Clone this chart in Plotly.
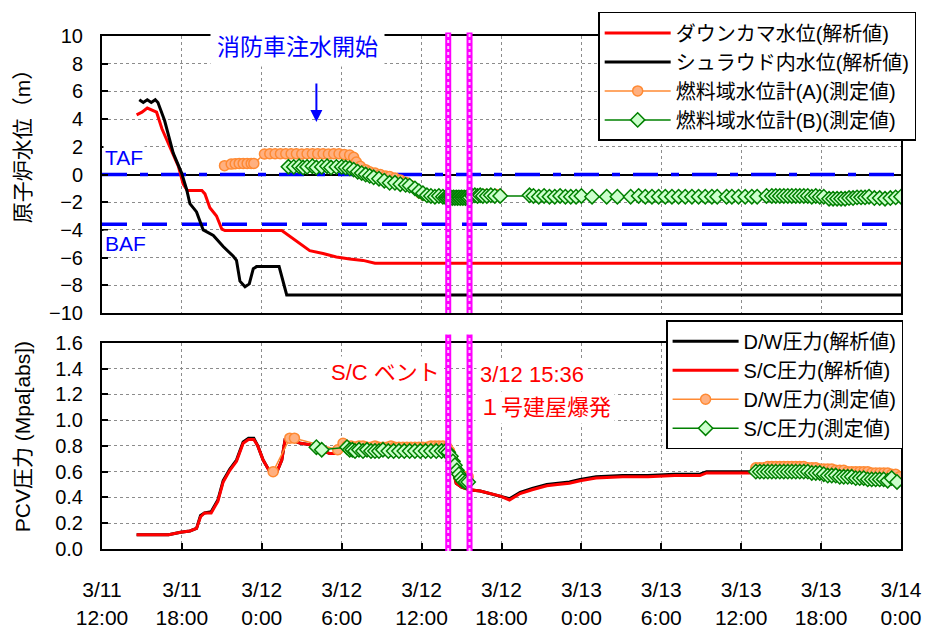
import plotly.graph_objects as go

# ---------------- data (hours since 3/11 12:00) ----------------
TICK_HOURS = [0, 6, 12, 18, 24, 30, 36, 42, 48, 54, 60]
TICK_LABELS = ["3/11<br>12:00", "3/11<br>18:00", "3/12<br>0:00", "3/12<br>6:00",
               "3/12<br>12:00", "3/12<br>18:00", "3/13<br>0:00", "3/13<br>6:00",
               "3/13<br>12:00", "3/13<br>18:00", "3/14<br>0:00"]

TAF_LEVEL = 0.0
BAF_LEVEL = -3.6
TIME_SPAN = [0, 60]
VENT_HOUR = 26.0          # S/C vent
EXPLOSION_HOUR = 27.6     # 3/12 15:36
FIRE_INJECTION_HOUR = 16.1

# top: reactor water level (m)
DOWNCOMER = [(2.6, 4.3), (3.0, 4.5), (3.4, 4.8), (4.1, 4.5), (4.5, 3.3), (5.1, 2.0),
             (5.73, 0.6), (6.1, -0.7), (6.4, -1.15), (7.5, -1.15), (7.73, -1.4),
             (8.1, -2.4), (8.6, -3.0), (9.0, -3.95), (9.23, -4.05), (13.5, -4.05),
             (14.1, -4.45), (14.9, -5.0), (15.6, -5.5), (16.6, -5.7), (17.6, -5.95),
             (18.6, -6.1), (19.6, -6.2), (20.5, -6.4), (60.0, -6.4)]

SHROUD = [(2.8, 5.4), (3.1, 5.2), (3.4, 5.4), (3.7, 5.2), (4.0, 5.4), (4.2, 5.2),
          (4.7, 3.9), (5.35, 1.55), (5.98, 0.1), (6.36, -1.1), (6.6, -2.1), (7.1, -2.7),
          (7.6, -4.0), (8.36, -4.4), (9.1, -5.2), (9.86, -5.9), (10.1, -6.2),
          (10.36, -7.7), (10.74, -8.1), (11.06, -7.9), (11.36, -6.8), (11.6, -6.65),
          (13.3, -6.65), (13.6, -7.85), (13.87, -8.7), (60.0, -8.7)]

FUEL_A = [(9.2, 0.64), (9.7, 0.75), (10.0, 0.78), (10.3, 0.8), (10.6, 0.8), (10.9, 0.8),
          (11.2, 0.8), (11.4, 0.8), (12.2, 1.48), (12.6, 1.5), (13.0, 1.5), (13.4, 1.5),
          (13.8, 1.5), (14.2, 1.5), (14.6, 1.5), (15.0, 1.48), (15.4, 1.5), (15.8, 1.5),
          (16.2, 1.5), (16.6, 1.5), (17.0, 1.48), (17.4, 1.5), (17.8, 1.5), (18.2, 1.45),
          (18.6, 1.4), (18.9, 1.25), (19.1, 0.9), (19.4, 0.6), (19.8, 0.35), (20.1, 0.2),
          (20.5, 0.1), (20.9, 0.0), (21.3, -0.1), (21.6, -0.15), (22.0, -0.25),
          (22.4, -0.4), (22.8, -0.55), (23.1, -0.75), (23.5, -1.0), (23.9, -1.35),
          (24.2, -1.5), (24.5, -1.55), (24.9, -1.6), (25.3, -1.6), (25.7, -1.55),
          (26.0, -1.55), (26.3, -1.6), (26.6, -1.6), (27.0, -1.55), (27.4, -1.55),
          (27.7, -1.5), (28.0, -1.5), (28.4, -1.5), (28.8, -1.45), (29.2, -1.45),
          (29.6, -1.45), (29.9, -1.5)]

FUEL_B = [(14.0, 0.56), (14.4, 0.55), (14.8, 0.6), (15.1, 0.5), (15.4, 0.55), (15.8, 0.6),
          (16.1, 0.5), (16.5, 0.55), (16.9, 0.6), (17.2, 0.5), (17.6, 0.55), (18.0, 0.55),
          (18.3, 0.5), (18.6, 0.45), (18.9, 0.35), (19.2, 0.2), (19.5, 0.1), (19.8, 0.0),
          (20.1, -0.1), (20.4, -0.2), (20.8, -0.3), (21.2, -0.45), (21.6, -0.6),
          (22.0, -0.6), (22.4, -0.7), (22.8, -0.75), (23.1, -0.8), (23.5, -1.0),
          (23.8, -1.2), (24.1, -1.35), (24.4, -1.5), (24.7, -1.55), (25.0, -1.6),
          (25.3, -1.55), (25.6, -1.6), (25.8, -1.65), (25.9, -1.7), (26.0, -1.65),
          (26.1, -1.7), (26.2, -1.65), (26.3, -1.7), (26.4, -1.65), (26.5, -1.7),
          (26.6, -1.65), (26.7, -1.7), (26.8, -1.65), (26.9, -1.7), (27.0, -1.65),
          (27.1, -1.7), (27.2, -1.65), (27.3, -1.7), (27.4, -1.65), (27.5, -1.7),
          (27.6, -1.65), (27.8, -1.55), (28.0, -1.5), (28.2, -1.55), (28.4, -1.5),
          (28.6, -1.55), (28.9, -1.55), (29.2, -1.5), (29.5, -1.55), (29.9, -1.55),
          (32.1, -1.5), (32.4, -1.55), (32.8, -1.6), (33.2, -1.55), (33.6, -1.6),
          (34.0, -1.6), (34.4, -1.55), (34.8, -1.6), (35.2, -1.6), (35.6, -1.6),
          (36.0, -1.55), (36.8, -1.6), (37.9, -1.6), (38.7, -1.6), (39.7, -1.6),
          (40.3, -1.55), (40.8, -1.6), (41.3, -1.6), (41.8, -1.6), (42.3, -1.6),
          (42.8, -1.6), (43.3, -1.6), (43.8, -1.6), (44.3, -1.6), (44.8, -1.6),
          (45.3, -1.6), (45.8, -1.6), (46.2, -1.6), (46.9, -1.6), (47.3, -1.6),
          (47.8, -1.6), (48.3, -1.6), (48.8, -1.6), (49.2, -1.6), (49.9, -1.55),
          (50.3, -1.55), (50.6, -1.55), (50.9, -1.55), (51.2, -1.55), (51.5, -1.55),
          (51.8, -1.55), (52.1, -1.55), (52.4, -1.55), (52.7, -1.55), (53.0, -1.55),
          (53.3, -1.6), (53.6, -1.55), (53.9, -1.6), (54.2, -1.6), (54.6, -1.75),
          (54.9, -1.75), (55.2, -1.75), (55.5, -1.75), (55.8, -1.75), (56.1, -1.7),
          (56.4, -1.7), (56.7, -1.65), (57.0, -1.65), (57.3, -1.65), (57.6, -1.6),
          (58.0, -1.7), (58.4, -1.7), (58.8, -1.75), (59.2, -1.7), (59.6, -1.65),
          (60.0, -1.6)]

# bottom: PCV pressure (MPa abs)
SC_ANALYSIS = [(2.6, 0.11), (5.0, 0.11), (5.9, 0.13), (6.6, 0.14), (7.1, 0.16), (7.4, 0.25),
               (7.7, 0.28), (8.2, 0.28), (8.7, 0.37), (9.1, 0.52), (9.6, 0.61), (10.1, 0.68),
               (10.6, 0.82), (11.0, 0.85), (11.4, 0.85), (11.7, 0.80), (12.1, 0.69),
               (12.6, 0.60), (13.1, 0.59), (13.5, 0.69), (13.75, 0.85), (14.1, 0.85),
               (14.9, 0.82), (15.6, 0.81), (16.4, 0.77), (17.1, 0.74), (17.8, 0.74),
               (18.1, 0.79), (20.0, 0.79), (22.0, 0.79), (24.0, 0.79), (25.6, 0.79),
               (26.1, 0.72), (26.4, 0.59), (26.6, 0.51), (27.0, 0.48), (27.6, 0.46),
               (28.4, 0.45), (29.1, 0.43), (29.9, 0.41), (30.6, 0.38), (31.4, 0.43),
               (32.3, 0.46), (33.4, 0.49), (34.2, 0.50), (35.1, 0.51), (35.9, 0.53),
               (37.1, 0.55), (39.1, 0.56), (41.0, 0.56), (43.0, 0.57), (44.9, 0.57),
               (45.4, 0.59), (47.0, 0.59), (49.1, 0.59), (51.0, 0.59), (53.4, 0.59),
               (55.5, 0.59), (57.5, 0.58), (59.4, 0.58), (60.0, 0.54)]

DW_ANALYSIS = [(2.6, 0.11), (5.0, 0.11), (5.9, 0.13), (6.6, 0.14), (7.1, 0.16), (7.4, 0.26),
               (7.7, 0.28), (8.2, 0.29), (8.7, 0.38), (9.1, 0.53), (9.6, 0.62), (10.1, 0.69),
               (10.6, 0.83), (11.0, 0.86), (11.4, 0.86), (11.7, 0.80), (12.1, 0.69),
               (12.6, 0.60), (13.1, 0.59), (13.5, 0.69), (13.75, 0.85), (14.1, 0.85),
               (14.9, 0.82), (15.6, 0.81), (16.4, 0.77), (17.1, 0.74), (17.8, 0.74),
               (18.1, 0.79), (20.0, 0.79), (22.0, 0.79), (24.0, 0.79), (25.6, 0.79),
               (26.1, 0.72), (26.4, 0.59), (26.6, 0.51), (27.0, 0.48), (27.6, 0.46),
               (28.4, 0.45), (29.1, 0.43), (29.9, 0.41), (30.6, 0.39), (31.4, 0.44),
               (32.3, 0.47), (33.4, 0.50), (34.2, 0.51), (35.1, 0.52), (35.9, 0.54),
               (37.1, 0.56), (39.1, 0.57), (41.0, 0.57), (43.0, 0.58), (44.9, 0.58),
               (45.4, 0.60), (47.0, 0.60), (49.1, 0.60), (51.0, 0.60), (53.4, 0.60),
               (55.5, 0.59), (57.5, 0.59), (59.4, 0.58), (60.0, 0.55)]

DW_MEASURED_1 = [(12.85, 0.60), (14.1, 0.86), (14.45, 0.86), (17.7, 0.77), (18.1, 0.82),
                 (18.4, 0.80), (18.7, 0.80), (19.0, 0.79), (19.3, 0.80), (19.6, 0.80),
                 (19.9, 0.79), (20.2, 0.79), (20.5, 0.80), (20.8, 0.79), (21.1, 0.79),
                 (21.4, 0.79), (21.7, 0.80), (22.0, 0.79), (22.3, 0.79), (22.6, 0.79),
                 (22.9, 0.79), (23.2, 0.79), (23.5, 0.79), (23.8, 0.79), (24.1, 0.79),
                 (24.4, 0.79), (24.7, 0.80), (25.0, 0.80), (25.3, 0.80), (25.6, 0.80),
                 (25.9, 0.79), (26.1, 0.76), (26.3, 0.70), (26.5, 0.64), (26.7, 0.60),
                 (26.9, 0.57), (27.1, 0.56), (27.3, 0.56), (27.5, 0.56)]
DW_MEASURED_2 = [(49.1, 0.63), (49.4, 0.63), (49.7, 0.63), (50.0, 0.64), (50.3, 0.64),
                 (50.6, 0.64), (50.9, 0.64), (51.2, 0.64), (51.5, 0.64), (51.8, 0.64),
                 (52.1, 0.64), (52.4, 0.64), (52.7, 0.64), (53.0, 0.63), (53.3, 0.63),
                 (53.6, 0.63), (53.9, 0.62), (54.2, 0.62), (54.5, 0.62), (54.8, 0.62),
                 (55.1, 0.61), (55.4, 0.61), (55.7, 0.61), (56.0, 0.60), (56.3, 0.60),
                 (56.6, 0.60), (56.9, 0.60), (57.2, 0.60), (57.5, 0.60), (57.8, 0.59),
                 (58.1, 0.59), (58.4, 0.59), (58.7, 0.59), (59.0, 0.59), (59.3, 0.58),
                 (59.6, 0.58), (59.9, 0.56)]

SC_MEASURED_1 = [(16.1, 0.79), (16.5, 0.77), (18.4, 0.79), (18.6, 0.77), (18.8, 0.77),
                 (19.0, 0.76), (19.3, 0.77), (19.6, 0.76), (19.9, 0.77), (20.2, 0.76),
                 (20.5, 0.76), (20.8, 0.76), (21.1, 0.77), (21.5, 0.76), (21.9, 0.76),
                 (22.3, 0.76), (22.7, 0.76), (23.1, 0.76), (23.5, 0.76), (23.9, 0.76),
                 (24.3, 0.76), (24.7, 0.76), (25.1, 0.76), (25.5, 0.76), (25.8, 0.76),
                 (26.0, 0.75), (26.2, 0.72), (26.35, 0.68), (26.5, 0.65), (26.65, 0.61),
                 (26.8, 0.58), (26.95, 0.55), (27.1, 0.53), (27.3, 0.52), (27.5, 0.52)]
SC_MEASURED_2 = [(49.1, 0.60), (49.4, 0.60), (49.7, 0.60), (50.0, 0.60), (50.3, 0.60),
                 (50.6, 0.60), (50.9, 0.60), (51.2, 0.60), (51.5, 0.60), (51.8, 0.60),
                 (52.1, 0.60), (52.4, 0.60), (52.7, 0.60), (53.0, 0.60), (53.3, 0.59),
                 (53.6, 0.59), (53.9, 0.59), (54.2, 0.58), (54.5, 0.57), (54.8, 0.57),
                 (55.1, 0.57), (55.4, 0.56), (55.7, 0.56), (56.0, 0.56), (56.3, 0.56),
                 (56.6, 0.55), (56.9, 0.55), (57.2, 0.55), (57.5, 0.54), (57.8, 0.54),
                 (58.1, 0.54), (58.4, 0.54), (58.7, 0.54), (59.0, 0.53), (59.3, 0.55),
                 (59.7, 0.52)]


def xy(*segments):
    xs, ys = [], []
    for i, seg in enumerate(segments):
        if i:
            xs.append(None)
            ys.append(None)
        xs += [p[0] for p in seg]
        ys += [p[1] for p in seg]
    return xs, ys


FONT = "Liberation Sans, Arial, Noto Sans CJK JP, sans-serif"
ORANGE = "#FF8A33"
ORANGE_FILL = "#FFB080"
GREEN = "#008000"
GREEN_FILL = "#CCFFCC"

fig = go.Figure()

# reference levels (TAF / BAF) drawn first so data sit on top
fig.add_trace(go.Scatter(x=TIME_SPAN, y=[TAF_LEVEL, TAF_LEVEL], mode="lines",
                         line=dict(color="#0000FF", width=3.5, dash="25px,13px,8px,13px"),
                         showlegend=False, hoverinfo="skip", xaxis="x", yaxis="y"))
fig.add_trace(go.Scatter(x=TIME_SPAN, y=[BAF_LEVEL, BAF_LEVEL], mode="lines",
                         line=dict(color="#0000FF", width=3.5, dash="25px,15px"),
                         showlegend=False, hoverinfo="skip", xaxis="x", yaxis="y"))

# --- top panel ---
x, y = xy(DOWNCOMER)
fig.add_trace(go.Scatter(x=x, y=y, mode="lines", name="ダウンカマ水位(解析値)",
                         line=dict(color="#FF0000", width=3), xaxis="x", yaxis="y",
                         legend="legend"))
x, y = xy(SHROUD)
fig.add_trace(go.Scatter(x=x, y=y, mode="lines", name="シュラウド内水位(解析値)",
                         line=dict(color="#000000", width=3), xaxis="x", yaxis="y",
                         legend="legend"))
x, y = xy(FUEL_A)
fig.add_trace(go.Scatter(x=x, y=y, mode="lines+markers", name="燃料域水位計(A)(測定値)",
                         line=dict(color=ORANGE, width=1.5),
                         marker=dict(symbol="circle", size=10, color=ORANGE_FILL,
                                     line=dict(color=ORANGE, width=1.5)),
                         xaxis="x", yaxis="y", legend="legend"))
x, y = xy(FUEL_B)
fig.add_trace(go.Scatter(x=x, y=y, mode="lines+markers", name="燃料域水位計(B)(測定値)",
                         line=dict(color=GREEN, width=1.5),
                         marker=dict(symbol="diamond", size=11, color=GREEN_FILL,
                                     line=dict(color=GREEN, width=1.5)),
                         xaxis="x", yaxis="y", legend="legend"))

# --- bottom panel ---
x, y = xy(DW_ANALYSIS)
fig.add_trace(go.Scatter(x=x, y=y, mode="lines", name="D/W圧力(解析値)",
                         line=dict(color="#000000", width=3), xaxis="x2", yaxis="y2",
                         legend="legend2"))
x, y = xy(SC_ANALYSIS)
fig.add_trace(go.Scatter(x=x, y=y, mode="lines", name="S/C圧力(解析値)",
                         line=dict(color="#FF0000", width=3), xaxis="x2", yaxis="y2",
                         legend="legend2"))
x, y = xy(DW_MEASURED_1, DW_MEASURED_2)
fig.add_trace(go.Scatter(x=x, y=y, mode="lines+markers", name="D/W圧力(測定値)",
                         line=dict(color=ORANGE, width=1.5),
                         marker=dict(symbol="circle", size=10, color=ORANGE_FILL,
                                     line=dict(color=ORANGE, width=1.5)),
                         xaxis="x2", yaxis="y2", legend="legend2"))
x, y = xy(SC_MEASURED_1, SC_MEASURED_2)
fig.add_trace(go.Scatter(x=x, y=y, mode="lines+markers", name="S/C圧力(測定値)",
                         line=dict(color=GREEN, width=1.5),
                         marker=dict(symbol="diamond", size=11, color=GREEN_FILL,
                                     line=dict(color=GREEN, width=1.5)),
                         xaxis="x2", yaxis="y2", legend="legend2"))

axis_common = dict(showline=True, linecolor="black", linewidth=2, mirror=True,
                   showgrid=True, gridcolor="#8c8c8c", griddash="dot", gridwidth=1,
                   automargin=False,
                   tickfont=dict(family=FONT, size=20, color="black"))

shapes = []
for hr in (VENT_HOUR, EXPLOSION_HOUR):
    for xr, yr, y0, y1 in (("x", "y domain", 0, 1.013), ("x2", "y2 domain", -0.01, 1.04)):
        shapes.append(dict(type="line", xref=xr, yref=yr, x0=hr, x1=hr, y0=y0, y1=y1,
                           line=dict(color="#FF00FF", width=6), layer="above"))
        shapes.append(dict(type="line", xref=xr, yref=yr, x0=hr, x1=hr, y0=y0, y1=y1,
                           line=dict(color="#FFC8FF", width=2, dash="dot"), layer="above"))

annotations = [
    dict(xref="x", yref="y", x=0.1, y=1.26, text="TAF", showarrow=False, xanchor="left",
         font=dict(family=FONT, size=21, color="#0000FF"), bgcolor="white"),
    dict(xref="x", yref="y", x=0.1, y=-4.95, text="BAF", showarrow=False, xanchor="left",
         font=dict(family=FONT, size=21, color="#0000FF"), bgcolor="white"),
    dict(xref="x", yref="y", x=14.7, y=9.2, text="消防車注水開始", showarrow=False,
         font=dict(family=FONT, size=23, color="#0000FF"), bgcolor="white", borderpad=6),
    dict(xref="x", yref="y", x=FIRE_INJECTION_HOUR, y=3.8, ax=0, ay=-40, text="",
         showarrow=True, arrowhead=2, arrowsize=1.2, arrowwidth=2, arrowcolor="#0000FF"),
    dict(xref="x2", yref="y2", x=25.7, y=1.373, text="S/C ベント", showarrow=False,
         xanchor="right", font=dict(family=FONT, size=22, color="#FF0000"),
         bgcolor="white", borderpad=3),
    dict(xref="x2", yref="y2", x=28.1, y=1.35, text="3/12 15:36", showarrow=False,
         xanchor="left", font=dict(family=FONT, size=22, color="#FF0000"),
         bgcolor="white", borderpad=3),
    dict(xref="x2", yref="y2", x=28.0, y=1.1, text="１号建屋爆発", showarrow=False,
         xanchor="left", font=dict(family=FONT, size=22, color="#FF0000"),
         bgcolor="white", borderpad=3),
    dict(xref="paper", yref="paper", x=-0.1, y=0.795, text="原子炉水位（m）",
         xanchor="center", yanchor="middle",
         textangle=-90, showarrow=False, font=dict(family=FONT, size=21, color="black")),
    dict(xref="paper", yref="paper", x=-0.1, y=0.218, text="PCV圧力 (Mpa[abs])",
         xanchor="center", yanchor="middle",
         textangle=-90, showarrow=False, font=dict(family=FONT, size=21, color="black")),
]

legend_common = dict(bgcolor="white", bordercolor="black", borderwidth=1.5,
                     font=dict(family=FONT, size=20, color="black"),
                     xanchor="left", yanchor="top", itemwidth=66)

fig.update_layout(
    width=933, height=630,
    margin=dict(l=102, r=32, t=36, b=81, autoexpand=False),
    paper_bgcolor="white", plot_bgcolor="white",
    font=dict(family=FONT, color="black"),
    xaxis=dict(axis_common, domain=[0, 1], anchor="y", range=TIME_SPAN, tickvals=TICK_HOURS,
               showticklabels=False, ticks=""),
    xaxis2=dict(axis_common, domain=[0, 1], anchor="y2", range=TIME_SPAN, tickvals=TICK_HOURS,
                ticktext=TICK_LABELS, ticks="inside", ticklen=6, tickwidth=2,
                tickcolor="black", ticklabelstandoff=21, matches="x",
                tickfont=dict(family=FONT, size=21, color="black")),
    yaxis=dict(axis_common, domain=[0.46, 1.0], anchor="x", range=[-10, 10], dtick=2,
               ticks="inside", ticklen=6, tickwidth=2, tickcolor="black",
               zeroline=True, zerolinecolor="black", zerolinewidth=1.5,
               ticklabelstandoff=13),
    yaxis2=dict(axis_common, domain=[0, 0.402], anchor="x2", range=[0, 1.6], dtick=0.2,
                tickformat=".1f", ticks="inside", ticklen=6, tickwidth=2, tickcolor="black",
                zeroline=False, ticklabelstandoff=13),
    legend=dict(legend_common, x=0.621, y=1.047),
    legend2=dict(legend_common, x=0.706, y=0.446),
    shapes=shapes,
    annotations=annotations,
    showlegend=True,
)

fig.write_html("out.html", config={"displayModeBar": False},
               post_script="document.body.style.margin='0';"
                           "document.body.style.overflow='hidden';")
